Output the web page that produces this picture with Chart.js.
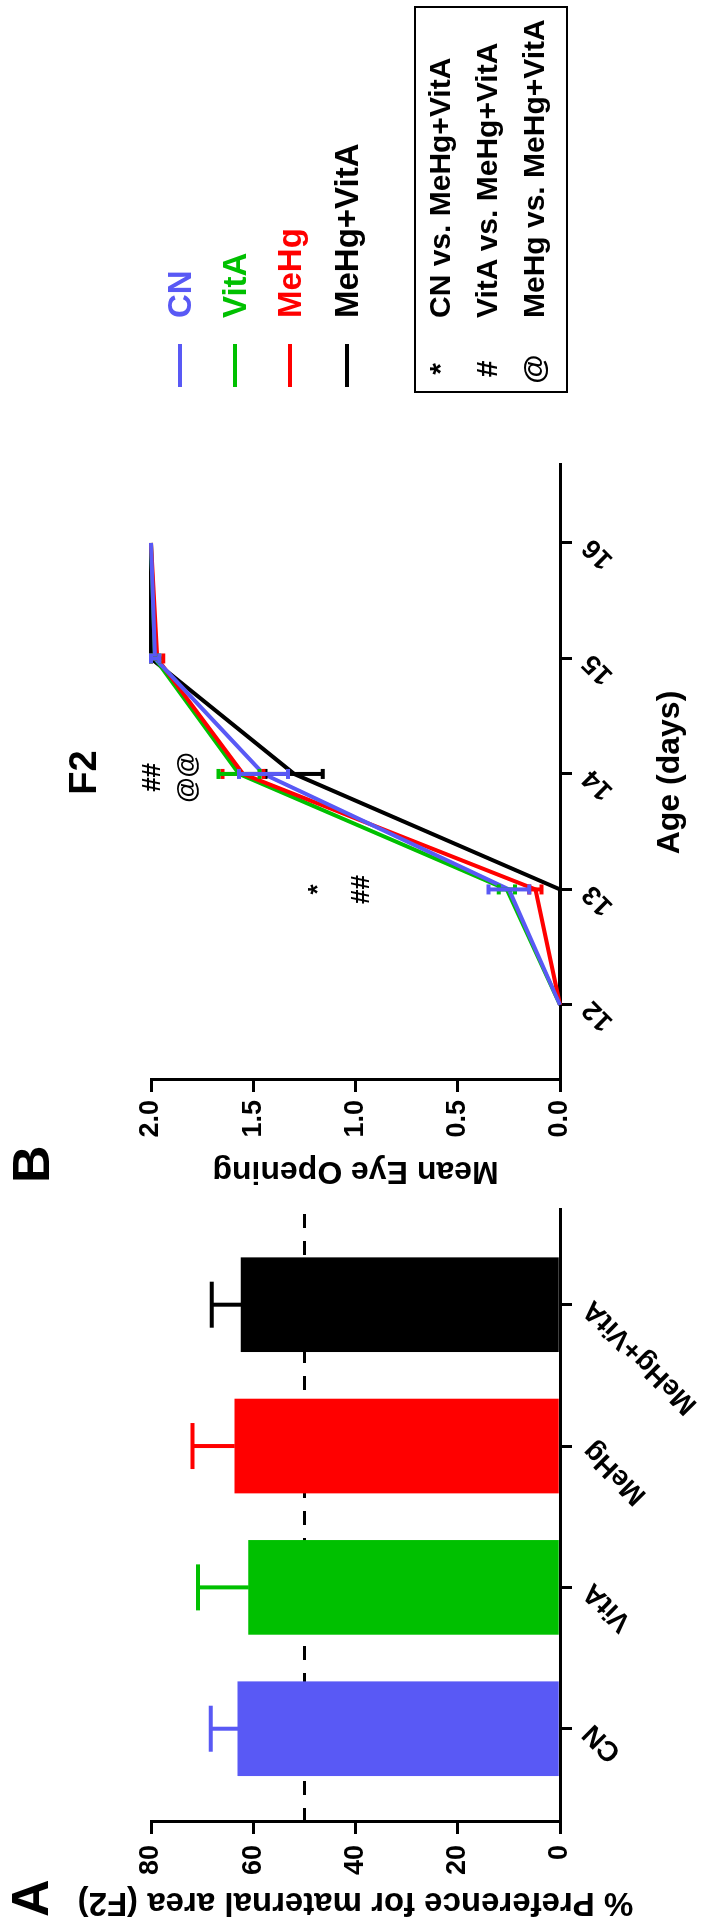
<!DOCTYPE html>
<html>
<head>
<meta charset="utf-8">
<script src="https://cdn.jsdelivr.net/npm/chart.js@4.4.0/dist/chart.umd.min.js"></script>
<style>
html, body { margin: 0; padding: 0; background: #fff; }
body { width: 715px; height: 1932px; overflow: hidden; position: relative; }
/* the figure is laid out landscape, then turned a quarter turn counter-clockwise */
#fig { position: absolute; left: 0; top: 0; width: 1932px; height: 715px;
  transform-origin: 0 0; transform: translateY(1932px) rotate(-90deg);
  font-family: "Liberation Sans", Arial, sans-serif; font-weight: bold; color: #000; }
#fig canvas { position: absolute; top: 0; }
.t { position: absolute; white-space: nowrap; }
.key { position: absolute; height: 4px; width: 43px; }
#box { position: absolute; left: 1539px; top: 414px; width: 387px; height: 154px;
  border: 2px solid #000; box-sizing: border-box; }
</style>
</head>
<body>
<div id="fig">
  <canvas id="chartA" width="740" height="715" style="left:0"></canvas>
  <canvas id="chartB" width="1202" height="715" style="left:730px"></canvas>

  <div class="t" style="left:15px;top:0px;line-height:60px;font-size:52px;">A</div>
  <div class="t" style="left:749px;top:1px;line-height:60px;font-size:52px;">B</div>

  <div id="legend"></div>
  <div id="box"></div>
  <div id="boxText"></div>
</div>

<script>
Chart.defaults.font.family = '"Liberation Sans", Arial, sans-serif';
Chart.defaults.font.weight = 'bold';
Chart.defaults.color = '#000';

// panel A: % preference for maternal area
const groups = ['CN', 'VitA', 'MeHg', 'MeHg+VitA'];
const groupColors = ['#5959f5', '#00c000', '#ff0000', '#000000'];
const preference = [63.0, 60.9, 63.6, 62.4];
const preferenceErr = [5.3, 9.9, 8.3, 5.7];
const chanceLevel = 50;
const prefTicks = [0, 20, 40, 60, 80];

// panel B: mean eye opening by age
const days = [12, 13, 14, 15, 16];
const eyeCN = [0, 0.25, 1.45, 1.98, 2.0];
const eyeVitA = [0, 0.26, 1.57, 1.98, 2.0];
const eyeMeHg = [0, 0.12, 1.55, 1.97, 2.0];
const eyeMeHgVitA = [0, 0, 1.30, 2.0, 2.0];
const errCN = [0, 0.10, 0.12, 0.02, 0];
const errVitA = [0, 0.04, 0.10, 0.02, 0];
const errMeHg = [0, 0.03, 0.10, 0.03, 0];
const errMeHgVitA = [0, 0, 0.14, 0, 0];
const eyeTicks = [0, 0.5, 1.0, 1.5, 2.0];

// significance marks: [day, level, symbol]
const sigMarks = [
	[13.97, 1.99, '##'],
	[13.97, 1.82, '@@'],
	[13.0, 1.18, '*'],
	[13.0, 0.97, '##'],
];
const statsKey = [
	['*', 'CN vs. MeHg+VitA'],
	['#', 'VitA vs. MeHg+VitA'],
	['@', 'MeHg vs. MeHg+VitA'],
];

const axisGrid = { drawOnChartArea: false, drawTicks: true, tickLength: 12, color: '#000', lineWidth: 3, offset: false };
const axisBorder = { display: true, color: '#000', width: 3 };

const barExtras = {
	id: 'barExtras',
	beforeDatasetsDraw(chart) {
		const { ctx, chartArea, scales } = chart;
		const y = scales.y.getPixelForValue(chanceLevel);
		ctx.save();
		ctx.strokeStyle = '#000';
		ctx.lineWidth = 3;
		ctx.setLineDash([14, 13]);
		ctx.beginPath();
		ctx.moveTo(chartArea.left, y);
		ctx.lineTo(chartArea.right, y);
		ctx.stroke();
		ctx.restore();
	},
	afterDatasetsDraw(chart) {
		const { ctx, scales } = chart;
		ctx.save();
		ctx.lineWidth = 4;
		preference.forEach((v, i) => {
			const x = scales.x.getPixelForValue(i + 1);
			const y0 = scales.y.getPixelForValue(v);
			const y1 = scales.y.getPixelForValue(v + preferenceErr[i]);
			ctx.strokeStyle = groupColors[i];
			ctx.beginPath();
			ctx.moveTo(x, y0);
			ctx.lineTo(x, y1);
			ctx.moveTo(x - 23, y1);
			ctx.lineTo(x + 23, y1);
			ctx.stroke();
		});
		ctx.restore();
	},
};

const chartA = new Chart(document.getElementById('chartA'), {
	type: 'bar',
	data: {
		datasets: [
			{
				data: preference.map((v, i) => ({ x: i + 1, y: v })),
				backgroundColor: groupColors,
				borderWidth: 0,
				barThickness: 94,
			},
		],
	},
	options: {
		responsive: false,
		animation: false,
		layout: { padding: { left: 0, top: 151, right: 18, bottom: 0 } },
		plugins: { legend: { display: false }, tooltip: { enabled: false } },
		scales: {
			x: {
				type: 'linear',
				min: 0.34,
				max: 4.67,
				offset: false,
				afterBuildTicks: (s) => { s.ticks = groups.map((g, i) => ({ value: i + 1 })); },
				afterFit: (s) => { s.height = 155; },
				ticks: {
					callback: (v) => groups[v - 1],
					autoSkip: false,
					minRotation: 45,
					maxRotation: 45,
					padding: 4,
					font: { size: 28 },
				},
				grid: axisGrid,
				border: axisBorder,
			},
			y: {
				min: 0,
				max: 80,
				afterBuildTicks: (s) => { s.ticks = prefTicks.map((v) => ({ value: v })); },
				afterFit: (s) => { s.width = 110; },
				ticks: { padding: 11, font: { size: 27 } },
				grid: axisGrid,
				border: axisBorder,
				title: {
					display: true,
					text: '% Preference for maternal area (F2)',
					font: { size: 33 },
					padding: { top: 10, bottom: 0 },
				},
			},
		},
	},
	plugins: [barExtras],
});

const series = [
	{ label: 'CN', values: eyeCN, errs: errCN, color: groupColors[0], order: 0 },
	{ label: 'VitA', values: eyeVitA, errs: errVitA, color: groupColors[1], order: 2 },
	{ label: 'MeHg', values: eyeMeHg, errs: errMeHg, color: groupColors[2], order: 1 },
	{ label: 'MeHg+VitA', values: eyeMeHgVitA, errs: errMeHgVitA, color: groupColors[3], order: 3 },
];

const lineExtras = {
	id: 'lineExtras',
	afterDatasetsDraw(chart) {
		const { ctx, scales, chartArea } = chart;
		ctx.save();
		ctx.lineWidth = 4;
		[...series].reverse().forEach((s) => {
			ctx.strokeStyle = s.color;
			s.values.forEach((v, i) => {
				if (!s.errs[i]) return;
				const x = scales.x.getPixelForValue(days[i]);
				const ya = scales.y.getPixelForValue(v - s.errs[i]);
				const yb = scales.y.getPixelForValue(Math.min(v + s.errs[i], 2.02));
				ctx.beginPath();
				ctx.moveTo(x, ya);
				ctx.lineTo(x, yb);
				ctx.moveTo(x - 5, ya);
				ctx.lineTo(x + 5, ya);
				ctx.moveTo(x - 5, yb);
				ctx.lineTo(x + 5, yb);
				ctx.stroke();
			});
		});
		ctx.fillStyle = '#000';
		ctx.textAlign = 'center';
		ctx.textBaseline = 'middle';
		ctx.font = 'bold 26px "Liberation Sans", Arial, sans-serif';
		sigMarks.forEach(([d, lv, txt]) => {
			ctx.fillText(txt, scales.x.getPixelForValue(d), scales.y.getPixelForValue(lv));
		});
		ctx.font = 'bold 38px "Liberation Sans", Arial, sans-serif';
		ctx.fillText('F2', (chartArea.left + chartArea.right) / 2, scales.y.getPixelForValue(2.32));
		ctx.restore();
	},
};

const chartB = new Chart(document.getElementById('chartB'), {
	type: 'line',
	data: {
		datasets: series.map((s) => ({
			label: s.label,
			data: days.map((d, i) => ({ x: d, y: s.values[i] })),
			borderColor: s.color,
			borderWidth: 4,
			pointRadius: 0,
			tension: 0,
			fill: false,
			clip: false,
			order: s.order,
		})),
	},
	options: {
		responsive: false,
		animation: false,
		layout: { padding: { left: 0, top: 151, right: 465, bottom: 0 } },
		plugins: { legend: { display: false }, tooltip: { enabled: false } },
		scales: {
			x: {
				type: 'linear',
				min: 11.35,
				max: 16.675,
				afterBuildTicks: (s) => { s.ticks = days.map((d) => ({ value: d })); },
				afterFit: (s) => { s.height = 155; },
				ticks: {
					callback: (v) => String(v),
					autoSkip: false,
					minRotation: 45,
					maxRotation: 45,
					padding: 4,
					font: { size: 27 },
				},
				grid: axisGrid,
				border: axisBorder,
				title: {
					display: true,
					text: 'Age (days)',
					font: { size: 32 },
					padding: { top: 0, bottom: 26 },
				},
			},
			y: {
				min: 0,
				max: 2,
				afterBuildTicks: (s) => { s.ticks = eyeTicks.map((v) => ({ value: v })); },
				afterFit: (s) => { s.width = 122; },
				ticks: { callback: (v) => v.toFixed(1), padding: 8, font: { size: 27 } },
				grid: axisGrid,
				border: axisBorder,
				title: {
					display: true,
					text: 'Mean Eye Opening',
					font: { size: 32 },
					padding: { top: 12, bottom: 0 },
				},
			},
		},
	},
	plugins: [lineExtras],
});

// legend and statistics key, as html text in the turned figure
const legendRows = [180, 235, 290, 347];
const legend = document.getElementById('legend');
series.forEach((s, i) => {
	const key = document.createElement('div');
	key.className = 'key';
	key.style.left = '1545px';
	key.style.top = legendRows[i] - 2 + 'px';
	key.style.background = s.color;
	legend.appendChild(key);
	const txt = document.createElement('div');
	txt.className = 't';
	txt.textContent = s.label;
	txt.style.cssText += 'left:1614px;top:' + (legendRows[i] - 20) + 'px;line-height:40px;font-size:33px;color:' + s.color;
	legend.appendChild(txt);
});

const keyRows = [440, 487, 534];
const boxText = document.getElementById('boxText');
statsKey.forEach(([sym, label], i) => {
	const a = document.createElement('div');
	a.className = 't';
	a.textContent = sym;
	a.style.cssText += 'left:1548px;width:30px;text-align:center;top:' + (keyRows[i] - 18) + 'px;line-height:36px;font-size:30px;';
	boxText.appendChild(a);
	const b = document.createElement('div');
	b.className = 't';
	b.textContent = label;
	b.style.cssText += 'left:1614px;top:' + (keyRows[i] - 18) + 'px;line-height:36px;font-size:30px;';
	boxText.appendChild(b);
});
</script>
</body>
</html>
